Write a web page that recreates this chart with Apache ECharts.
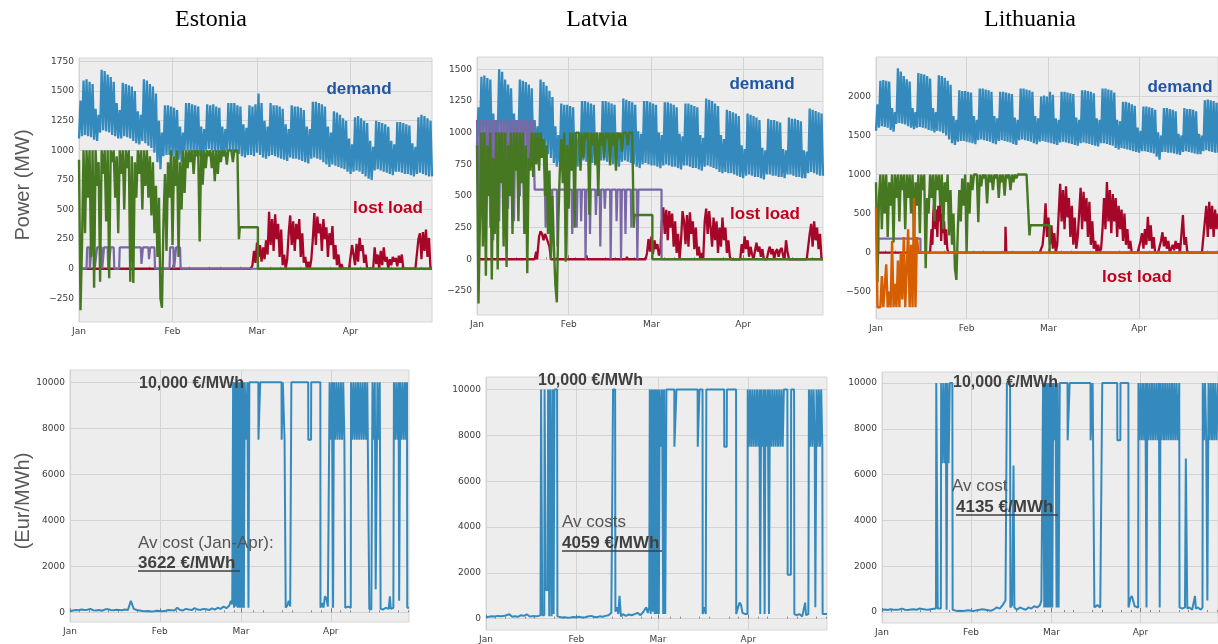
<!DOCTYPE html>
<html><head><meta charset="utf-8">
<script src="https://cdn.jsdelivr.net/npm/echarts@6/dist/echarts.min.js"></script>
<style>html,body{margin:0;padding:0;background:#fff}#c{width:1218px;height:644px}</style>
</head><body><div id="c"></div>
<script>
// ---------- axis tick data ----------
const monthTicks = [0, 31, 59, 90];
const monthLabels = ['Jan', 'Feb', 'Mar', 'Apr'];
const estPowTicks = [-250, 0, 250, 500, 750, 1000, 1250, 1500, 1750];
const latPowTicks = [-250, 0, 250, 500, 750, 1000, 1250, 1500];
const litPowTicks = [-500, 0, 500, 1000, 1500, 2000];
const priceTicks = [0, 2000, 4000, 6000, 8000, 10000];
const countries = ['Estonia', 'Latvia', 'Lithuania'];

// ---------- demand: daily high / low (MW), day 0 = Jan 1 ----------
const estDemHi = [
1420,1590,1600,1580,1560,1350,1300,
1680,1670,1640,1620,1580,1400,1340,
1570,1560,1550,1540,1500,1330,1300,
1600,1590,1560,1540,1480,1250,1150,
1380,1380,1370,1360,1340,1200,1150,
1400,1400,1390,1380,1370,1200,1180,
1390,1380,1390,1370,1360,1200,1180,
1400,1400,1400,1380,1370,1220,1190,
1380,1370,1390,1480,1400,1250,1200,
1400,1380,1380,1370,1350,1220,1180,
1380,1370,1370,1360,1340,1200,1180,
1410,1410,1400,1390,1370,1200,1150,
1330,1320,1300,1270,1250,1100,1050,
1280,1290,1270,1250,1230,1080,1030,
1250,1240,1230,1220,1200,1080,1050,
1240,1240,1230,1220,1210,1060,1030,
1280,1300,1290,1270,1250];
const estDemLo = [
1100,1120,1130,1120,1110,1090,1080,
1150,1170,1160,1150,1130,1120,1100,
1100,1120,1110,1100,1080,1060,1050,
1080,1060,1040,1020,980,900,840,
950,960,960,950,940,920,900,
1000,1000,990,980,970,950,940,
1000,1010,1000,990,980,960,950,
1000,1000,990,980,970,950,940,
960,960,950,980,960,940,930,
950,960,950,940,930,920,910,
940,930,930,920,910,900,890,
930,940,930,920,900,880,860,
880,870,860,850,840,820,800,
820,830,820,800,780,760,750,
830,840,830,820,810,800,790,
820,820,810,800,800,790,780,
800,810,800,790,780];
const latDemHi = [
1200,1440,1450,1430,1420,1150,1100,
1500,1480,1420,1380,1350,1150,1100,
1420,1410,1400,1380,1350,1100,1050,
1420,1400,1370,1330,1280,1050,980,
1230,1220,1220,1210,1200,1000,980,
1250,1250,1240,1230,1220,1000,980,
1250,1250,1240,1230,1220,1000,990,
1270,1260,1250,1240,1220,1010,990,
1250,1250,1240,1230,1220,1000,980,
1240,1240,1230,1220,1200,990,970,
1230,1230,1220,1210,1200,980,960,
1270,1260,1250,1230,1210,980,950,
1180,1170,1160,1150,1130,900,870,
1150,1140,1130,1120,1100,880,860,
1110,1100,1100,1090,1080,870,860,
1120,1110,1110,1100,1090,860,850,
1190,1180,1170,1160,1150];
const latDemLo = [
900,950,960,950,940,900,880,
980,990,980,960,950,900,880,
920,930,920,900,880,860,850,
880,860,850,830,800,760,730,
760,770,770,760,750,740,730,
770,780,770,760,760,740,730,
780,780,770,760,750,740,730,
770,780,770,760,750,730,720,
750,760,750,740,740,730,720,
740,750,740,730,730,720,710,
740,740,730,720,720,710,700,
730,740,730,720,710,690,680,
690,680,680,670,660,650,640,
660,670,660,650,650,640,630,
670,670,660,660,650,650,640,
670,670,660,650,650,640,640,
680,690,680,670,660];
const litDemHi = [
1900,2200,2210,2200,2190,1850,1800,
2360,2320,2260,2220,2190,1850,1800,
2300,2290,2280,2260,2230,1850,1800,
2270,2260,2240,2200,2150,1750,1700,
2080,2070,2070,2060,2050,1750,1700,
2100,2100,2090,2080,2060,1750,1720,
2060,2060,2050,2040,2030,1730,1700,
2100,2100,2090,2080,2060,1750,1720,
2000,2010,2000,2060,2020,1720,1700,
2060,2060,2050,2040,2030,1730,1700,
2080,2080,2070,2060,2040,1720,1700,
2100,2100,2090,2080,2050,1700,1680,
1930,1930,1920,1900,1880,1600,1560,
1870,1870,1860,1850,1830,1540,1500,
1850,1850,1840,1830,1810,1520,1500,
1850,1840,1840,1830,1810,1520,1500,
1950,1960,1950,1940,1920];
const litDemLo = [
1560,1600,1620,1610,1600,1570,1550,
1650,1660,1650,1640,1620,1600,1580,
1600,1610,1600,1590,1570,1560,1540,
1560,1550,1530,1500,1450,1400,1380,
1420,1430,1430,1420,1410,1400,1390,
1440,1450,1440,1430,1420,1400,1390,
1430,1440,1430,1420,1410,1390,1380,
1440,1450,1440,1430,1420,1400,1390,
1420,1430,1420,1410,1400,1390,1380,
1410,1420,1410,1400,1390,1380,1370,
1400,1410,1400,1390,1380,1370,1360,
1400,1400,1390,1380,1370,1340,1320,
1340,1330,1320,1310,1300,1290,1280,
1300,1300,1290,1280,1270,1230,1190,
1290,1290,1280,1280,1270,1260,1250,
1290,1300,1290,1280,1270,1260,1260,
1300,1310,1300,1290,1280];

// ---------- green flow (MW), half-day values from day 0, then step tail [day, MW] ----------
const estGreen = [
920,-350, 200,1000, 300,1000, 600,1000, 100,1000, -160,1000, 700,900, -110,1000, 800,1000, 400,1000,
-80,1000, 900,1000, 600,950, 300,1000, 800,1000, 500,1000, 850,1000, -110,950, -120,900, 600,1000,
800,1000, 500,1000, 700,1000, 600,950, 450,900, 300,700, 100,600, -250,-330, 400,800, 150,900,
600,1000, 200,950, 700,1000, 100,900, 500,1000, 640,1000, 850,1000, 900,1000, 800,1000, 950,1000,
230,1000, 710,1000, 850,1000, 950,1000, 850,1000, 740,1000, 800,1000, 900,1000, 950,1000, 880,1000,
1000,1000, 900,1000, 1000,1000, 250];
const estGreenTail = [[53.3,350],[59.3,350],[59.3,0],[117,0]];
const latGreen = [
900,-350, 300,1000, 100,1000, -130,900, 500,1000, -160,800, 200,1000, -80,1000, 600,1000, 100,1000,
-60,900, 500,1000, 200,1000, 700,1000, 300,1000, 600,1000, 200,900, -110,800, 700,1000, 650,1000,
750,1000, 700,1000, 800,950, 500,900, 200,700, 0,500, 100,-200, -340,300, 700,950, 600,1000,
-20,900, 400,1000, 700,1000, 250,1000, 1000,1000, 700,1000, 800,1000, 950,1000, 350,1000, 900,1000,
750,1000, 500,1000, 900,1000, 800,1000, 950,1000, 740,1000, 900,1000, 700,1000, 950,1000, 850,1000,
1000,1000, 900,1000, 1000,1000, 250];
const latGreenTail = [[53.3,350],[59.3,350],[59.3,0],[117,0]];
const litGreen = [
900,-380, 700,1000, 300,1000, 500,1000, 200,900, 600,1000, 130,1000, 700,1000, 400,1000, 800,1000,
300,1000, 700,1000, 500,1000, 200,900, 600,1000, 250,1000, 800,1000, -200,700, 500,1000, 700,1000,
400,1000, 800,1000, 600,1000, 300,900, 650,1000, 220,800, 100,500, -200,-350, 300,800, 400,950,
600,1000, 0,900, 500,1000, 800,1000, 1000,1000, 390,1000, 850,1000, 950,1000, 630,1000, 900,1000,
800,1000, 950,1000, 700,1000, 900,1000, 730,1000, 950,1000, 800,1000, 900,1000, 950,1000, 1000,1000,
1000,1000, 1000,1000, 1000,220];
const litGreenTail = [[52.8,350],[59.4,350],[59.4,0],[117,0]];

// ---------- purple flow (MW) ----------
const estPurple = [[0,0],[2.5,0],[2.7,180],[3.5,180],[3.6,0],[4,0],[4.2,180],[5,180],[5.2,0],[5.8,0],[6,180],[7.5,180],[7.7,0],[8.1,0],[8.3,180],[9.5,180],[9.7,0],[10.3,0],[10.5,180],[11.5,180],[11.7,0],[13.3,0],[13.5,180],[17,180],[17.2,60],[17.6,180],[20.5,180],[20.7,40],[21.2,180],[23,180],[23.2,80],[23.6,180],[25,180],[25.2,0],[30,0],[30.2,180],[31.3,180],[31.5,0],[32,0],[32.2,180],[33.5,180],[33.7,0],[117,0]];
const latPurple = [
1100,300, 1100,400, 1100,200, 1100,600, 1100,250, 1100,150, 1100,500, 1100,300, 1100,700, 1100,200,
1100,400, 1100,600, 1100,300, 1100,800, 1100,500, 1100,900, 1100,200, 1100,700, 1100,900, 1100,550];
const latPurpleTail = [[20,550],[23,550],[23.2,250],[23.6,550],[25,550],[25.2,150],[25.5,550],[27,550],[27.2,100],[27.5,550],[30,550],[30.2,0],[30.6,550],[32,550],[32.2,200],[32.5,550],[33.5,550],[33.7,250],[34,550],[35,550],[35.2,300],[35.5,550],[36.5,550],[36.7,0],[37,550],[38,550],[38.2,200],[38.5,550],[40,550],[40.2,350],[40.5,550],[41.5,550],[41.7,100],[42,550],[43,550],[43.2,400],[43.5,550],[45,550],[45.2,0],[45.5,550],[47,550],[47.2,300],[47.5,550],[48.5,550],[48.7,0],[49,550],[50,550],[50.2,200],[50.5,550],[52,550],[52.2,250],[52.5,550],[54,550],[54.2,0],[54.6,550],[62.4,550],[62.4,0],[117,0]];
const litPurple = [[0,0],[0.8,0],[0.8,180],[15.2,180],[15.2,0],[117,0]];

// ---------- orange flow (Lithuania, MW), half-day values from day 0 ----------
const litOrange = [580,-700, -700,-700, -300,-700, -700,-150, -700,-500, -700,150, -700,-400, -700,-100, -700,0, -600,200, -700,-200, 300,-700, 100,-700, 700,-700, 200,0];
const litOrangeTail = [[15,0],[117,0]];

// ---------- lost load (MW): early events [day, MW] and half-day values from a start day ----------
const estRedEarly = [[0,0],[57,0]];
const estRedStart = 57;
const estRed = [
0,30, 150,50, 220,100, 200,60, 180,80, 240,120, 480,200, 420,150, 460,250, 380,100,
330,30, 120,0, 80,300, 450,200, 400,150, 380,250, 420,100, 300,50, 100,0, 60,0,
80,250, 470,200, 440,300, 380,150, 420,250, 350,100, 300,200, 360,80, 200,30, 120,0,
40,0, 0,0, 0,0, 0,200, 120,30, 210,60, 260,150, 200,50, 120,0, 0,0,
0,0, 180,40, 120,0, 150,30, 180,60, 100,0, 80,30, 100,60, 90,20, 110,50,
120,0, 0,0, 0,0, 0,0, 0,0, 0,250, 300,80, 310,150, 330,100, 260,0, 0];
const latRedEarly = [[0,0],[19.5,0],[20,60],[20.3,0],[21,180],[21.5,220],[22,200],[22.5,150],[23,200],[23.5,170],[24,180],[24.5,100],[25,0],[36.8,0],[37,30],[37.2,0],[50.5,0],[50.7,20],[50.9,0],[57,0]];
const latRedStart = 57;
const latRed = [
0,50, 160,60, 180,40, 150,80, 120,30, 60,300, 410,200, 390,150, 380,250, 360,100,
300,50, 200,0, 150,380, 300,120, 350,100, 370,200, 300,80, 250,30, 100,0, 50,0,
300,400, 200,380, 250,100, 330,150, 300,50, 250,100, 330,150, 250,50, 150,20, 0,0,
0,0, 0,0, 0,120, 50,180, 80,150, 20,100, 40,0, 0,130, 60,100, 20,80,
0,0, 0,60, 100,40, 80,0, 60,80, 20,70, 90,30, 0,150, 60,0, 0,0,
0,0, 0,0, 0,0, 0,0, 0,0, 0,200, 280,100, 300,150, 250,80, 200,0, 0];
const litRedEarly = [[0,0],[18.5,0],[19,300],[19.3,100],[19.6,500],[20,700],[20.3,300],[20.6,550],[21,200],[21.3,600],[21.6,400],[22,650],[22.3,150],[22.6,500],[23,250],[23.3,400],[23.6,100],[24,300],[24.4,50],[24.8,0],[44.2,0],[44.3,330],[44.5,330],[44.6,0],[56,0]];
const litRedStart = 56;
const litRed = [
0,0, 100,300, 630,200, 450,100, 350,50, 250,0, 100,500, 880,400, 800,300, 850,450,
700,200, 600,100, 450,50, 200,500, 830,300, 780,400, 700,200, 650,100, 400,50, 150,0,
100,0, 50,300, 700,300, 905,400, 800,250, 750,400, 700,200, 600,300, 550,150, 500,100,
300,50, 150,0, 0,0, 0,0, 0,150, 250,50, 300,100, 460,150, 350,50, 200,0,
0,0, 0,150, 260,80, 200,50, 150,0, 0,100, 30,150, 50,120, 0,0, 480,100,
200,0, 0,0, 0,0, 0,0, 0,0, 0,0, 0,400, 600,200, 650,300, 600,200, 550,300, 500];

// ---------- price (EUR/MWh): daily low-price values from day 0, then [day, price] ----------
const estPriceLow = [50,80,100,90,120,100,110,150,90,80,100,70,120,140,100,90,110,100,90,120,100,500,150,100,80,60,50,60,40,50,70,60,50,70,100,90,80,200,100,80,150,120,100,180,120,100,150,130,100,170,120,200,150,250,180,300];
const estPriceHigh = [[55.5,500],[56,350],[56.3,10000],[56.6,200],[56.9,10000],[57.2,250],[57.5,10000],[57.9,200],[58.2,10000],[58.6,200],[58.9,10000],[59.3,200],[59.6,10000],[60,200],[60.3,10000],[60.8,7500],[61.2,10000],[61.6,200],[61.9,10000],[65,10000],[65.05,7500],[65.6,7500],[65.65,10000],[73,10000],[73.05,7500],[73.4,7500],[73.45,10000],[74,10000],[74.05,7500],[74.4,7500],[74.45,200],[75,300],[75.5,500],[76,250],[76.4,10000],[82.2,10000],[82.25,7500],[83.2,7500],[83.25,10000],[86.4,10000],[86.45,200],[87,400],[87.5,200],[88,700],[88.5,600],[89,250],[89.5,200],[89.6,10000],[90,7500],[90.4,10000],[90.8,200],[91.1,10000],[91.5,7500],[91.9,10000],[92.3,7500],[92.7,10000],[93.1,7500],[93.5,10000],[93.9,7500],[94.3,10000],[94.7,7500],[95,200],[96,250],[96.9,200],[97,10000],[97.4,7500],[97.8,10000],[98.2,7500],[98.6,10000],[99,7500],[99.4,10000],[99.8,7500],[100.2,10000],[100.6,7500],[101,10000],[101.4,7500],[101.8,10000],[102.2,7500],[102.6,10000],[103.2,10000],[103.3,150],[104,120],[104.4,10000],[104.8,7500],[105.2,10000],[105.5,1000],[106,1000],[106.1,10000],[106.5,7500],[106.9,10000],[107.2,150],[108,120],[109,200],[110,150],[110.4,700],[110.7,150],[111.6,200],[111.8,10000],[112.2,7500],[112.6,10000],[113,7500],[113.4,10000],[113.6,500],[113.9,500],[114,10000],[114.4,7500],[114.8,10000],[115.2,7500],[115.6,10000],[116,7500],[116.3,10000],[116.4,200],[117,200]];
const latPriceLow = [60,80,100,90,120,100,110,150,190,80,100,80,150,120,190,90,110,100,120];
const latPriceHigh = [[18.7,150],[18.9,10000],[19.2,10000],[19.3,150],[20,150],[20.1,10000],[20.5,1250],[21.2,1250],[21.3,10000],[21.7,100],[22,10000],[22.4,10000],[22.5,100],[22.8,10000],[23.2,200],[23.5,10000],[24.4,10000],[24.5,100],[25,80],[26,50],[27,60],[28,40],[29,50],[30,70],[31,60],[32,80],[33,50],[34,60],[35,90],[36,120],[37,80],[38,60],[39,100],[40,80],[41,120],[42,150],[43,250],[43.5,250],[43.6,10000],[44.3,10000],[44.4,300],[45,500],[45.4,200],[45.8,1000],[46.2,1000],[46.3,100],[47,200],[48,120],[49,180],[50,150],[51,200],[52,250],[53,150],[54,300],[55,500],[55.5,250],[56,500],[56.2,10000],[56.5,200],[56.8,10000],[57.2,300],[57.5,10000],[57.9,200],[58.2,10000],[58.6,200],[58.9,10000],[59.3,200],[59.6,10000],[60,7500],[60.4,10000],[60.8,200],[61.1,10000],[61.5,200],[61.9,10000],[64.6,10000],[64.65,7500],[65.3,7500],[65.35,10000],[72.6,10000],[72.65,7500],[73.2,7500],[73.25,10000],[74.3,10000],[74.35,200],[75,500],[75.4,200],[75.6,10000],[81.7,10000],[81.75,7500],[82.6,7500],[82.65,10000],[85.8,10000],[85.85,200],[86.5,500],[87,700],[87.5,600],[88,250],[89,200],[89.7,200],[89.8,10000],[90.2,7500],[90.6,10000],[91,7500],[91.4,10000],[91.8,7500],[92.2,10000],[92.6,7500],[93,10000],[93.4,7500],[93.8,10000],[94.1,200],[94.4,10000],[94.8,7500],[95.2,10000],[95.6,200],[95.9,10000],[96.3,7500],[96.7,10000],[97.1,200],[97.4,10000],[97.8,7500],[98.2,10000],[98.6,7500],[99,10000],[99.4,7500],[99.8,10000],[100.2,7500],[100.6,10000],[101,7500],[101.4,10000],[101.8,7500],[102.2,10000],[103.4,10000],[103.5,1920],[104.6,1920],[104.7,10000],[105.7,10000],[105.8,200],[106.5,150],[107.5,200],[108.5,100],[109.5,700],[109.8,150],[110.6,200],[110.8,10000],[111.2,7500],[111.6,10000],[112,7500],[112.4,10000],[112.8,7500],[113,500],[113.3,500],[113.4,10000],[113.8,7500],[114.2,10000],[114.6,7500],[115,10000],[115.4,7500],[115.5,200],[117,200]];
const litPriceLow = [100,110,90,120,100,100,110,150,100,90,110,120,100,150,130,110,100,120,140];
const litPriceHigh = [[18.8,150],[18.9,10000],[19.3,10000],[19.4,150],[20.5,150],[20.6,10000],[21,6500],[21.4,10000],[21.8,6500],[22.2,10000],[22.5,100],[22.8,10000],[23.2,6500],[23.6,10000],[24.5,10000],[24.6,100],[25,80],[26,50],[27,60],[28,40],[29,60],[30,80],[31,60],[32,50],[33,80],[34,100],[35,120],[36,100],[37,80],[38,60],[39,120],[40,200],[41,150],[42,300],[43,500],[43.4,500],[43.5,10000],[44.6,10000],[44.7,200],[45.3,300],[45.7,300],[45.8,6400],[46,6400],[46.1,200],[47,100],[48,200],[49,150],[50,100],[51,200],[52,150],[53,250],[54,200],[55,300],[55.5,500],[56,500],[56.1,10000],[56.5,200],[56.8,10000],[57.2,200],[57.5,10000],[57.9,200],[58.2,10000],[58.6,200],[58.9,10000],[59.3,200],[59.6,10000],[60,7500],[60.4,10000],[60.8,200],[61.1,10000],[61.5,200],[61.9,10000],[64.6,10000],[64.65,7500],[65.3,7500],[65.35,10000],[72.6,10000],[72.65,7500],[73.3,7500],[73.35,10000],[73.9,10000],[73.95,200],[75,300],[76,200],[76.6,200],[76.7,10000],[81.9,10000],[81.95,7500],[83,7500],[83.05,10000],[85.8,10000],[85.85,200],[86.5,600],[87,700],[87.5,700],[88,250],[89.2,200],[89.3,10000],[89.7,7500],[90.1,10000],[90.5,7500],[90.9,10000],[91.3,7500],[91.7,10000],[92.1,200],[92.4,10000],[92.8,7500],[93.2,10000],[93.6,7500],[94,10000],[94.4,7500],[94.8,10000],[95.2,7500],[95.6,10000],[96,7500],[96.4,10000],[96.7,200],[97,10000],[97.4,7500],[97.8,10000],[98.2,7500],[98.6,10000],[99,7500],[99.4,10000],[99.8,7500],[100.2,10000],[100.6,7500],[101,10000],[101.4,7500],[101.8,10000],[102.2,7500],[102.6,10000],[103,7500],[103.5,10000],[103.6,200],[104.5,150],[105.5,200],[105.8,6700],[106.2,6700],[106.3,150],[107,200],[108,100],[109,700],[109.3,150],[110,200],[111,100],[111.6,200],[111.7,10000],[112.1,7500],[112.5,10000],[112.9,7500],[113.3,500],[113.6,500],[113.7,10000],[114.1,7500],[114.5,10000],[114.9,7500],[115.3,10000],[115.7,7500],[116.1,10000],[116.5,7500],[117,10000]];

// ---------- builders ----------
function dailyBand(hi, lo) {
  const out = [];
  for (let d = 0; d < hi.length; d++) { out.push([d, lo[d]]); out.push([d + 0.5, hi[d]]); }
  out.push([hi.length, lo[lo.length - 1]]);
  return out;
}
function halfDay(start, vals) { return vals.map((v, i) => [start + i * 0.5, v]); }
function dailyVals(vals) { return vals.map((v, i) => [i, v]); }

const C = { blue: '#348ABD', red: '#A60628', purple: '#7A68A6', green: '#467821', orange: '#D55E00' };

const grids = [
  { left: 79, top: 58, width: 353, height: 264 },
  { left: 477, top: 57, width: 346, height: 258 },
  { left: 876, top: 57, width: 347, height: 262 },
  { left: 70, top: 370, width: 339, height: 252 },
  { left: 486, top: 377, width: 341, height: 254 },
  { left: 882, top: 372, width: 341, height: 251 }
];
const yRanges = [[-450, 1780], [-440, 1597], [-850, 2505], [-420, 10530], [-496, 10548], [-479, 10478]];
const yTicks = [estPowTicks, latPowTicks, litPowTicks, priceTicks, priceTicks, priceTicks];

const tickFont = { fontSize: 9, color: '#3a3a3a', fontFamily: 'DejaVu Sans' };
const xAxes = grids.map((g, i) => ({
  type: 'value', gridIndex: i, min: 0, max: 117, interval: 10,
  axisLine: { show: false },
  axisTick: { show: true, inside: true, customValues: monthTicks, length: 4, lineStyle: { color: '#777' } },
  minorTick: { show: true, splitNumber: 3, length: 2, lineStyle: { color: '#888' } },
  axisLabel: Object.assign({ customValues: monthTicks, margin: 5,
    formatter: v => monthLabels[monthTicks.indexOf(v)] || '' }, tickFont),
  splitLine: { show: true, lineStyle: { color: '#d3d3d3', width: 1 } }
}));
const yAxes = grids.map((g, i) => ({
  type: 'value', gridIndex: i, min: yRanges[i][0], max: yRanges[i][1],
  axisLine: { show: false },
  axisTick: { show: false, customValues: yTicks[i] },
  axisLabel: Object.assign({ customValues: yTicks[i], margin: 5,
    formatter: v => (v < 0 ? '\u2212' + (-v) : String(v)) }, tickFont),
  splitLine: { show: true, lineStyle: { color: '#d3d3d3', width: 1 } }
}));

function line(gi, data, color, w) {
  return { type: 'line', xAxisIndex: gi, yAxisIndex: gi, data: data, showSymbol: false, symbol: 'none',
    lineStyle: { color: color, width: w }, itemStyle: { color: color }, animation: false, silent: true, clip: true };
}

const series = [
  // Estonia power
  line(0, dailyBand(estDemHi, estDemLo), C.blue, 2.3),
  line(0, estRedEarly.concat(halfDay(estRedStart, estRed)), C.red, 2.3),
  line(0, estPurple, C.purple, 2.2),
  line(0, halfDay(0, estGreen).concat(estGreenTail), C.green, 2.4),
  // Latvia power
  line(1, dailyBand(latDemHi, latDemLo), C.blue, 2.3),
  line(1, latRedEarly.concat(halfDay(latRedStart, latRed)), C.red, 2.3),
  line(1, halfDay(0, latPurple).concat(latPurpleTail), C.purple, 2.2),
  line(1, halfDay(0, latGreen).concat(latGreenTail), C.green, 2.4),
  // Lithuania power
  line(2, dailyBand(litDemHi, litDemLo), C.blue, 2.3),
  line(2, litRedEarly.concat(halfDay(litRedStart, litRed)), C.red, 2.3),
  line(2, litPurple, C.purple, 2.2),
  line(2, halfDay(0, litGreen).concat(litGreenTail), C.green, 2.4),
  line(2, halfDay(0, litOrange).concat(litOrangeTail), C.orange, 2.4),
  // prices
  line(3, dailyVals(estPriceLow).concat(estPriceHigh), C.blue, 2),
  line(4, dailyVals(latPriceLow).concat(latPriceHigh), C.blue, 2),
  line(5, dailyVals(litPriceLow).concat(litPriceHigh), C.blue, 2)
];

function txt(x, y, text, font, fill, align, rot) {
  return { type: 'text', x: x, y: y, rotation: rot || 0, z: 100,
    style: { x: 0, y: 0, text: text, font: font, fill: fill, align: align || 'center', textAlign: align || 'center',
      verticalAlign: 'middle', textVerticalAlign: 'middle' } };
}
function uline(x1, x2, y) {
  return { type: 'line', z: 100, shape: { x1: x1, y1: y, x2: x2, y2: y }, style: { stroke: '#404040', lineWidth: 1.5 } };
}
const SANS = '"Liberation Sans", Arial, sans-serif';
const titleFont = '24px "Liberation Serif", "Times New Roman", serif';
const graphics = [
  txt(211, 20, countries[0], titleFont, '#000'),
  txt(597, 20, countries[1], titleFont, '#000'),
  txt(1030, 20, countries[2], titleFont, '#000'),
  txt(23, 185, 'Power (MW)', '20px ' + SANS, '#595959', 'center', Math.PI / 2),
  txt(23, 501, '(Eur/MWh)', '20px ' + SANS, '#595959', 'center', Math.PI / 2),
  txt(359, 89, 'demand', 'bold 17px ' + SANS, '#2155a3'),
  txt(388, 208, 'lost load', 'bold 17px ' + SANS, '#c0001e'),
  txt(762, 84, 'demand', 'bold 17px ' + SANS, '#2155a3'),
  txt(765, 214, 'lost load', 'bold 17px ' + SANS, '#c0001e'),
  txt(1180, 87, 'demand', 'bold 17px ' + SANS, '#2155a3'),
  txt(1137, 277, 'lost load', 'bold 17px ' + SANS, '#c0001e'),
  txt(139, 384, '10,000 €/MWh', 'bold 16px ' + SANS, '#404040', 'left'),
  txt(138, 543, 'Av cost (Jan-Apr):', '17px ' + SANS, '#555', 'left'),
  txt(138, 563, '3622 €/MWh', 'bold 17px ' + SANS, '#404040', 'left'),
  uline(138, 240, 571),
  txt(538, 381, '10,000 €/MWh', 'bold 16px ' + SANS, '#404040', 'left'),
  txt(562, 522, 'Av costs', '17px ' + SANS, '#555', 'left'),
  txt(562, 543, '4059 €/MWh', 'bold 17px ' + SANS, '#404040', 'left'),
  uline(562, 662, 551),
  txt(953, 383, '10,000 €/MWh', 'bold 16px ' + SANS, '#404040', 'left'),
  txt(952, 486, 'Av cost', '17px ' + SANS, '#555', 'left'),
  txt(956, 507, '4135 €/MWh', 'bold 17px ' + SANS, '#404040', 'left'),
  uline(956, 1058, 515)
];

const chart = echarts.init(document.getElementById('c'), null, { renderer: 'canvas' });
chart.setOption({
  backgroundColor: '#ffffff',
  animation: false,
  grid: grids.map(g => Object.assign({ show: true, backgroundColor: '#ededed', borderColor: '#d6d6d6', borderWidth: 1 }, g)),
  xAxis: xAxes,
  yAxis: yAxes,
  series: series,
  graphic: { elements: graphics }
});
</script></body></html>
